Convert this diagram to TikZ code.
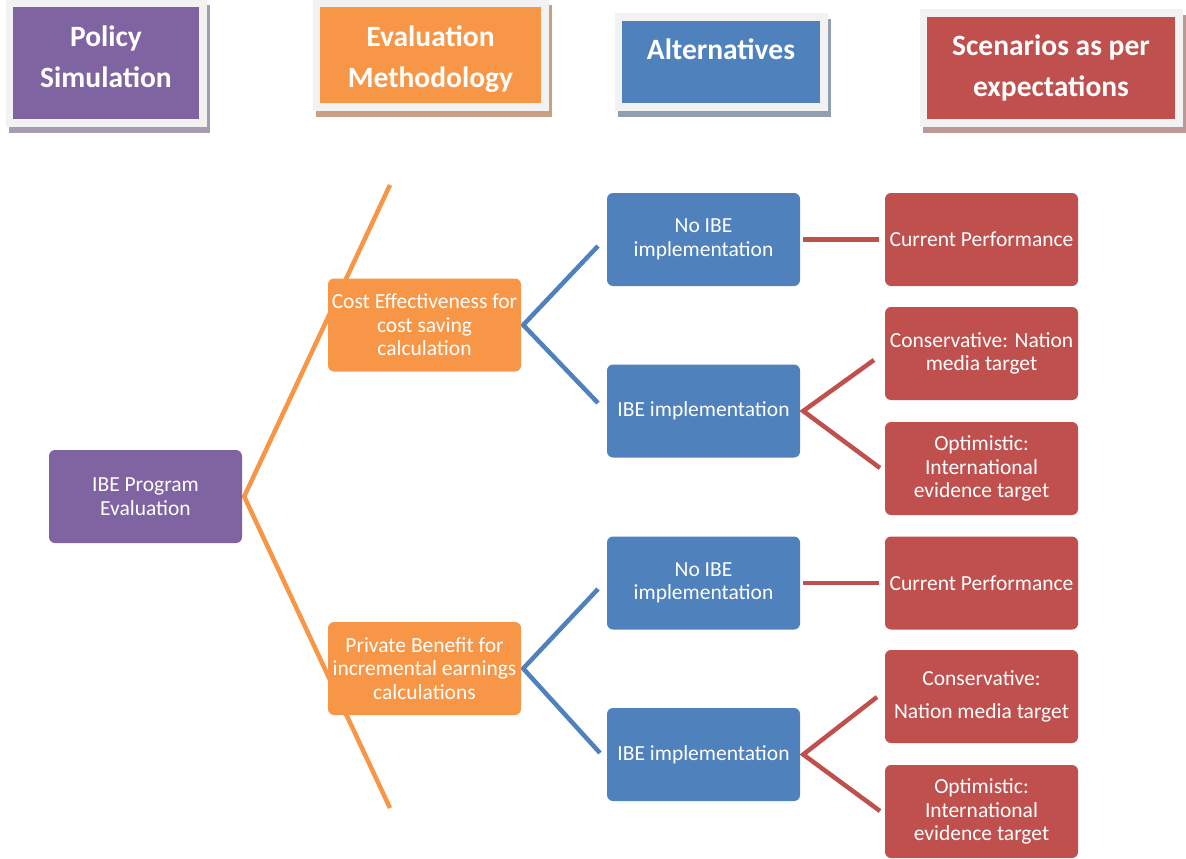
\documentclass[tikz,border=0pt]{standalone}
\usepackage{fontspec}
\setmainfont{Carlito}
\usetikzlibrary{backgrounds}

\definecolor{ipurple}{HTML}{8064A2}
\definecolor{iorange}{HTML}{F79646}
\definecolor{iblue}{HTML}{4F81BD}
\definecolor{ired}{HTML}{C0504D}
\definecolor{framegrey}{HTML}{F2F2F2}
\definecolor{shpurple}{HTML}{A59CB0}
\definecolor{shorange}{HTML}{C9A083}
\definecolor{shblue}{HTML}{929EB2}
\definecolor{shred}{HTML}{BC9898}

\tikzset{
  box/.style={fill=#1, rounded corners=6pt, text=white, align=center,
    minimum width=193pt, minimum height=93pt,
    font=\fontsize{21.5}{23.5}\selectfont},
  head/.style 2 args={fill=#1, text=white, align=center,
    font=\fontsize{29.5}{41}\selectfont\bfseries,
    preaction={fill=#2, draw=#2, line width=15pt,
      transform canvas={shift={(3pt,-6pt)}}},
    preaction={draw=framegrey, line width=15pt}},
  branch/.style={draw=#1, line width=4.5pt}
}

\begin{document}
\begin{tikzpicture}[x=1pt,y=-1pt]
  \useasboundingbox (0,0) rectangle (1186,859);

  % column headings
  \node[head={ipurple}{shpurple}, minimum width=186pt, minimum height=112pt] (hpol) at (106,63) {Policy\\Simulation\\[-29pt]\mbox{}};
  \node[head={iorange}{shorange}, minimum width=221pt, minimum height=96pt, text height=69pt] (heval) at (430.5,55) {Evaluation\\Methodology};
  \node[head={iblue}{shblue}, minimum width=198pt, minimum height=82pt, text depth=25pt] (halt) at (721,62) {Alternatives};
  \node[head={ired}{shred}, minimum width=248pt, minimum height=102pt] (hscen) at (1051,68) {Scenarios as per\\expectations};

  % tree
  \node[box=ipurple] (prog) at (145.5,496.5) {IBE Program\\Evaluation};
  \node[box=iorange] (cost) at (424.5,325) {Cost Effectiveness for\\cost saving\\calculation};
  \node[box=iorange] (priv) at (424.5,668.5) {Private Benefit for\\incremental earnings\\calculations};

  \node[box=iblue] (noibeA) at (703.5,239.5) {No IBE\\implementation};
  \node[box=iblue] (ibeA) at (703.5,411) {IBE implementation};
  \node[box=iblue] (noibeB) at (703.5,583) {No IBE\\implementation};
  \node[box=iblue] (ibeB) at (703.5,754.5) {IBE implementation};

  \node[box=ired] (curA) at (981.5,239.5) {Current Performance};
  \node[box=ired] (consA) at (981.5,353.5) {Conservative: Nation\\media target};
  \node[box=ired] (optA) at (981.5,468.5) {Optimistic:\\International\\evidence target};
  \node[box=ired] (curB) at (981.5,583) {Current Performance};
  \node[box=ired] (consB) at (981.5,696.5) {Conservative:\\[9pt]Nation media target};
  \node[box=ired] (optB) at (981.5,811.5) {Optimistic:\\International\\evidence target};

  % free ends of the branches
  \coordinate (otop) at (390,185);
  \coordinate (obot) at (390,808);
  \coordinate (bAup) at (598,246);
  \coordinate (bAdn) at (598,403);
  \coordinate (bBup) at (598,589);
  \coordinate (bBdn) at (600,753);
  \coordinate (rAup) at (874,360);
  \coordinate (rAdn) at (880,468);
  \coordinate (rBup) at (877,697);
  \coordinate (rBdn) at (880,811);

  \begin{scope}[on background layer]
    \draw[branch=iorange] (otop) -- ([xshift=2pt]prog.east) -- (obot);
    \draw[branch=iblue] (bAup) -- ([xshift=2pt]cost.east) -- (bAdn);
    \draw[branch=iblue] (bBup) -- ([xshift=2pt]priv.east) -- (bBdn);
    \draw[branch=ired, shorten <=3pt, shorten >=6pt] (noibeA.east) -- (curA.west);
    \draw[branch=ired, shorten <=3pt, shorten >=6pt] (noibeB.east) -- (curB.west);
    \draw[branch=ired] (rAup) -- ([xshift=3pt]ibeA.east) -- (rAdn);
    \draw[branch=ired] (rBup) -- ([xshift=3pt]ibeB.east) -- (rBdn);
  \end{scope}
\end{tikzpicture}
\end{document}
